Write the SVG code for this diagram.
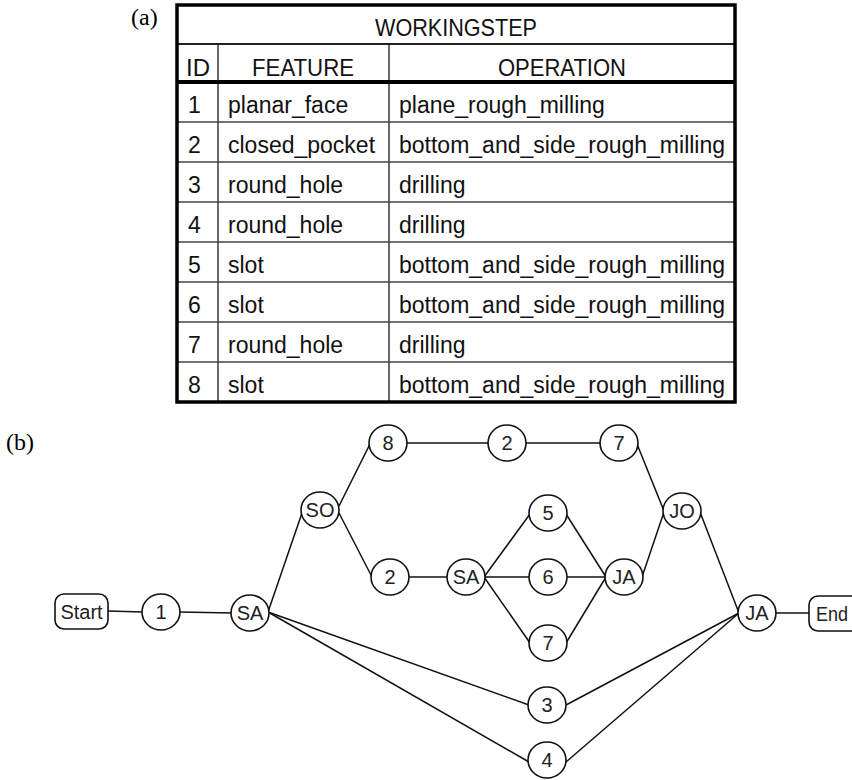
<svg xmlns="http://www.w3.org/2000/svg" width="852" height="780" viewBox="0 0 852 780">
<style>
.lbl{font-family:"Liberation Serif","Times New Roman",serif;font-size:24px;fill:#000}
.t{font-family:"Liberation Sans",Arial,sans-serif;font-size:23px;fill:#111}
.h{font-family:"Liberation Sans",Arial,sans-serif;font-size:24px;fill:#111;text-anchor:middle}
.grid{stroke:#444;stroke-width:1.6;fill:none}
.n{fill:#fff;stroke:#111;stroke-width:1.6}
.nt{font-family:"Liberation Sans",Arial,sans-serif;font-size:20px;fill:#222;text-anchor:middle}
.c{stroke:#111;stroke-width:1.5;fill:none}
</style>
<rect width="852" height="780" fill="#fff"/>
<text class="lbl" x="131" y="25">(a)</text>
<g id="table">
<line class="grid" x1="218" y1="44" x2="218" y2="402"/>
<line class="grid" x1="389" y1="44" x2="389" y2="402"/>
<line x1="177" y1="44" x2="735" y2="44" stroke="#222" stroke-width="2"/>
<line class="grid" x1="177" y1="122" x2="735" y2="122"/>
<line class="grid" x1="177" y1="162" x2="735" y2="162"/>
<line class="grid" x1="177" y1="202" x2="735" y2="202"/>
<line class="grid" x1="177" y1="242" x2="735" y2="242"/>
<line class="grid" x1="177" y1="282" x2="735" y2="282"/>
<line class="grid" x1="177" y1="322" x2="735" y2="322"/>
<line class="grid" x1="177" y1="362" x2="735" y2="362"/>
<line x1="177" y1="82" x2="735" y2="82" stroke="#000" stroke-width="4"/>
<rect x="177" y="5" width="558" height="397" fill="none" stroke="#000" stroke-width="3.5"/>
<text class="h" x="456" y="36" textLength="162" lengthAdjust="spacingAndGlyphs">WORKINGSTEP</text>
<text class="h" x="198" y="76">ID</text>
<text class="h" x="303" y="76" textLength="102" lengthAdjust="spacingAndGlyphs">FEATURE</text>
<text class="h" x="562" y="76" textLength="128" lengthAdjust="spacingAndGlyphs">OPERATION</text>
<text class="t" x="188" y="113">1</text><text class="t" x="228" y="113">planar_face</text><text class="t" x="399" y="113">plane_rough_milling</text>
<text class="t" x="188" y="153">2</text><text class="t" x="228" y="153">closed_pocket</text><text class="t" x="399" y="153">bottom_and_side_rough_milling</text>
<text class="t" x="188" y="193">3</text><text class="t" x="228" y="193">round_hole</text><text class="t" x="399" y="193">drilling</text>
<text class="t" x="188" y="233">4</text><text class="t" x="228" y="233">round_hole</text><text class="t" x="399" y="233">drilling</text>
<text class="t" x="188" y="273">5</text><text class="t" x="228" y="273">slot</text><text class="t" x="399" y="273">bottom_and_side_rough_milling</text>
<text class="t" x="188" y="313">6</text><text class="t" x="228" y="313">slot</text><text class="t" x="399" y="313">bottom_and_side_rough_milling</text>
<text class="t" x="188" y="353">7</text><text class="t" x="228" y="353">round_hole</text><text class="t" x="399" y="353">drilling</text>
<text class="t" x="188" y="393">8</text><text class="t" x="228" y="393">slot</text><text class="t" x="399" y="393">bottom_and_side_rough_milling</text>
</g>
<text class="lbl" x="6" y="450">(b)</text>
<g id="connectors">
<line class="c" x1="108" y1="611" x2="143" y2="612"/>
<line class="c" x1="180" y1="612" x2="232" y2="613"/>
<line class="c" x1="268" y1="612" x2="302" y2="513"/>
<line class="c" x1="268" y1="612" x2="529" y2="705"/>
<line class="c" x1="268" y1="612" x2="529" y2="762"/>
<line class="c" x1="339" y1="506" x2="370" y2="444"/>
<line class="c" x1="339" y1="513" x2="372" y2="577"/>
<line class="c" x1="407" y1="443" x2="488" y2="443"/>
<line class="c" x1="526" y1="443" x2="600" y2="443"/>
<line class="c" x1="637" y1="444" x2="664" y2="511"/>
<line class="c" x1="409" y1="577" x2="447" y2="577"/>
<line class="c" x1="484" y1="577" x2="530" y2="514"/>
<line class="c" x1="484" y1="577" x2="529" y2="577"/>
<line class="c" x1="484" y1="577" x2="530" y2="643"/>
<line class="c" x1="566" y1="514" x2="606" y2="577"/>
<line class="c" x1="567" y1="577" x2="606" y2="577"/>
<line class="c" x1="566" y1="643" x2="606" y2="577"/>
<line class="c" x1="642" y1="577" x2="664" y2="512"/>
<line class="c" x1="700" y1="512" x2="739" y2="613"/>
<line class="c" x1="566" y1="705" x2="739" y2="613"/>
<line class="c" x1="566" y1="762" x2="739" y2="613"/>
<line class="c" x1="776" y1="613" x2="809" y2="613"/>
</g>
<g id="start"><rect class="n" x="55" y="594" width="53" height="35" rx="9"/><text class="nt" x="81.5" y="619">Start</text></g>
<g id="n1"><ellipse class="n" cx="161" cy="612" rx="19" ry="18"/><text class="nt" x="161" y="619">1</text></g>
<g id="sa1"><ellipse class="n" cx="250" cy="613" rx="19" ry="18"/><text class="nt" x="250" y="620">SA</text></g>
<g id="so"><ellipse class="n" cx="320" cy="510" rx="19" ry="18"/><text class="nt" x="320" y="517">SO</text></g>
<g id="n8"><ellipse class="n" cx="388" cy="443" rx="19" ry="18"/><text class="nt" x="388" y="450">8</text></g>
<g id="n2a"><ellipse class="n" cx="507" cy="443" rx="19" ry="18"/><text class="nt" x="507" y="450">2</text></g>
<g id="n7a"><ellipse class="n" cx="619" cy="443" rx="19" ry="18"/><text class="nt" x="619" y="450">7</text></g>
<g id="n2b"><ellipse class="n" cx="390" cy="577" rx="19" ry="18"/><text class="nt" x="390" y="584">2</text></g>
<g id="sa2"><ellipse class="n" cx="466" cy="577" rx="19" ry="18"/><text class="nt" x="466" y="584">SA</text></g>
<g id="n5"><ellipse class="n" cx="548" cy="513" rx="19" ry="18"/><text class="nt" x="548" y="520">5</text></g>
<g id="n6"><ellipse class="n" cx="548" cy="577" rx="19" ry="18"/><text class="nt" x="548" y="584">6</text></g>
<g id="n7b"><ellipse class="n" cx="548" cy="643" rx="19" ry="18"/><text class="nt" x="548" y="650">7</text></g>
<g id="ja1"><ellipse class="n" cx="624" cy="577" rx="19" ry="18"/><text class="nt" x="624" y="584">JA</text></g>
<g id="jo"><ellipse class="n" cx="682" cy="511" rx="19" ry="18"/><text class="nt" x="682" y="518">JO</text></g>
<g id="ja2"><ellipse class="n" cx="757" cy="613" rx="19" ry="18"/><text class="nt" x="757" y="620">JA</text></g>
<g id="n3"><ellipse class="n" cx="547" cy="705" rx="19" ry="18"/><text class="nt" x="547" y="712">3</text></g>
<g id="n4"><ellipse class="n" cx="547" cy="760" rx="19" ry="18"/><text class="nt" x="547" y="767">4</text></g>
<g id="end"><rect class="n" x="809" y="596" width="60" height="35" rx="9"/><text class="nt" x="816" y="621" style="text-anchor:start" textLength="32" lengthAdjust="spacingAndGlyphs">End</text></g>
</svg>
